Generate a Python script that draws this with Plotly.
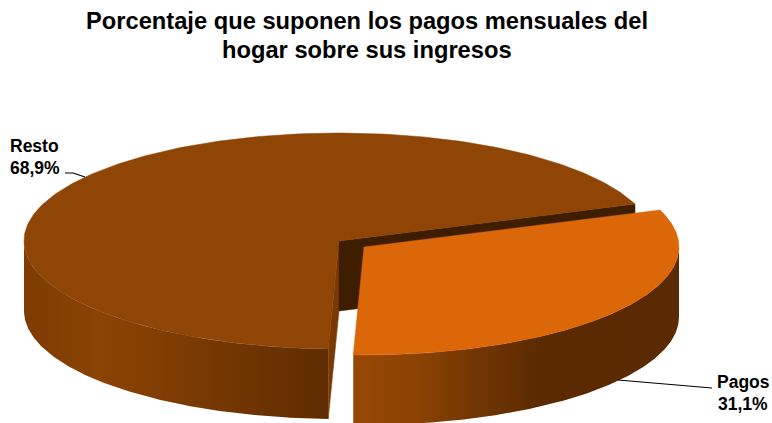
import numpy as np
import plotly.graph_objects as go

categories = ["Pagos", "Resto"]
values = [31.1, 68.9]
value_labels = ["31,1%", "68,9%"]
title_lines = ["Porcentaje que suponen los pagos mensuales del", "hogar sobre sus ingresos"]

RX, RY, DEPTH = 315, 108, 70
START = 20.0
PAGOS_C = (364, 247)
RESTO_C = (339, 241)
TOP_COLORS = {"Pagos": "#DB6708", "Resto": "#8F4505"}
FACE_DARK = "#3F1E00"
FACE_MID = "#7A3903"
RESTO_STOPS = [(25, "#7E3C03"), (100, "#8A4304"), (140, "#853F03"), (220, "#743702"), (328, "#5E2C01")]
PAGOS_STOPS = [(354, "#984805"), (420, "#8A4204"), (480, "#703503"), (540, "#5B2A01"), (680, "#5A2A02")]

span = [v / sum(values) * 360 for v in values]
pagos_a = (START - span[0], START)
resto_a = (START, START + span[1])


def ell(c, t):
    r = np.radians(t)
    return c[0] + RX * np.cos(r), c[1] - RY * np.sin(r)


fig = go.Figure()


def poly(x, y, color):
    x, y = list(x), list(y)
    fig.add_trace(go.Scatter(x=x + x[:1], y=y + y[:1], mode="lines", fill="toself",
                             fillcolor=color, line=dict(color=color, width=0.5),
                             hoverinfo="skip", showlegend=False))


def wall(c, a0, a1, stops):
    ts = np.linspace(a0, a1, 240)
    ex, ey = ell(c, ts)
    x = np.r_[ex, ex[::-1], ex[0]]
    y = np.r_[ey, ey[::-1] + DEPTH, ey[0]]
    x0, x1 = stops[0][0], stops[-1][0]
    scale = [[(s[0] - x0) / (x1 - x0), s[1]] for s in stops]
    fig.add_trace(go.Scatter(x=list(x), y=list(y), mode="lines", fill="toself",
                             line=dict(width=0, color="rgba(0,0,0,0)"),
                             fillgradient=dict(type="horizontal", colorscale=scale, start=x0, stop=x1),
                             hoverinfo="skip", showlegend=False))


def sector(c, a0, a1, color):
    ts = np.linspace(a0, a1, 240)
    ex, ey = ell(c, ts)
    poly(np.r_[c[0], ex], np.r_[c[1], ey], color)


# Resto: outer wall, cut faces and top
wall(RESTO_C, 180, resto_a[1], RESTO_STOPS)
ex, ey = ell(RESTO_C, resto_a[1])
poly([RESTO_C[0], ex, ex, RESTO_C[0]], [RESTO_C[1], ey, ey + DEPTH, RESTO_C[1] + DEPTH], FACE_MID)
ex, ey = ell(RESTO_C, resto_a[0])
poly([RESTO_C[0], ex, ex, RESTO_C[0]], [RESTO_C[1], ey, ey + DEPTH, RESTO_C[1] + DEPTH], FACE_DARK)
sector(RESTO_C, resto_a[0], resto_a[1], TOP_COLORS["Resto"])

# Pagos: outer wall and top
wall(PAGOS_C, pagos_a[0], 0, PAGOS_STOPS)
sector(PAGOS_C, pagos_a[0], pagos_a[1], TOP_COLORS["Pagos"])

# Leader lines
for lx, ly in [([618, 712], [380, 388]), ([65, 73, 85], [173, 173, 177])]:
    fig.add_trace(go.Scatter(x=lx, y=ly, mode="lines", line=dict(color="black", width=1.2),
                             hoverinfo="skip", showlegend=False))


def label(x, y, text, size):
    fig.add_annotation(x=x, y=y, xref="x", yref="y", showarrow=False, align="center",
                       font=dict(family="Liberation Sans", size=size, color="black"),
                       text=f"<b>{text}</b>")


label(743, 382, categories[0], 17.5)
label(743, 404, value_labels[0], 17.5)
label(34.5, 146, categories[1], 17.5)
label(34.5, 168, value_labels[1], 17.5)
label(367, 21, title_lines[0], 23.7)
label(367, 50, title_lines[1], 23.7)

fig.update_layout(width=772, height=423, margin=dict(l=0, r=0, t=0, b=0),
                  paper_bgcolor="white", plot_bgcolor="white", showlegend=False,
                  xaxis=dict(range=[0, 772], visible=False),
                  yaxis=dict(range=[423, 0], visible=False))
fig.write_html("out.html", config={"displayModeBar": False},
               post_script="document.body.style.margin='0';document.documentElement.style.overflow='hidden';")
